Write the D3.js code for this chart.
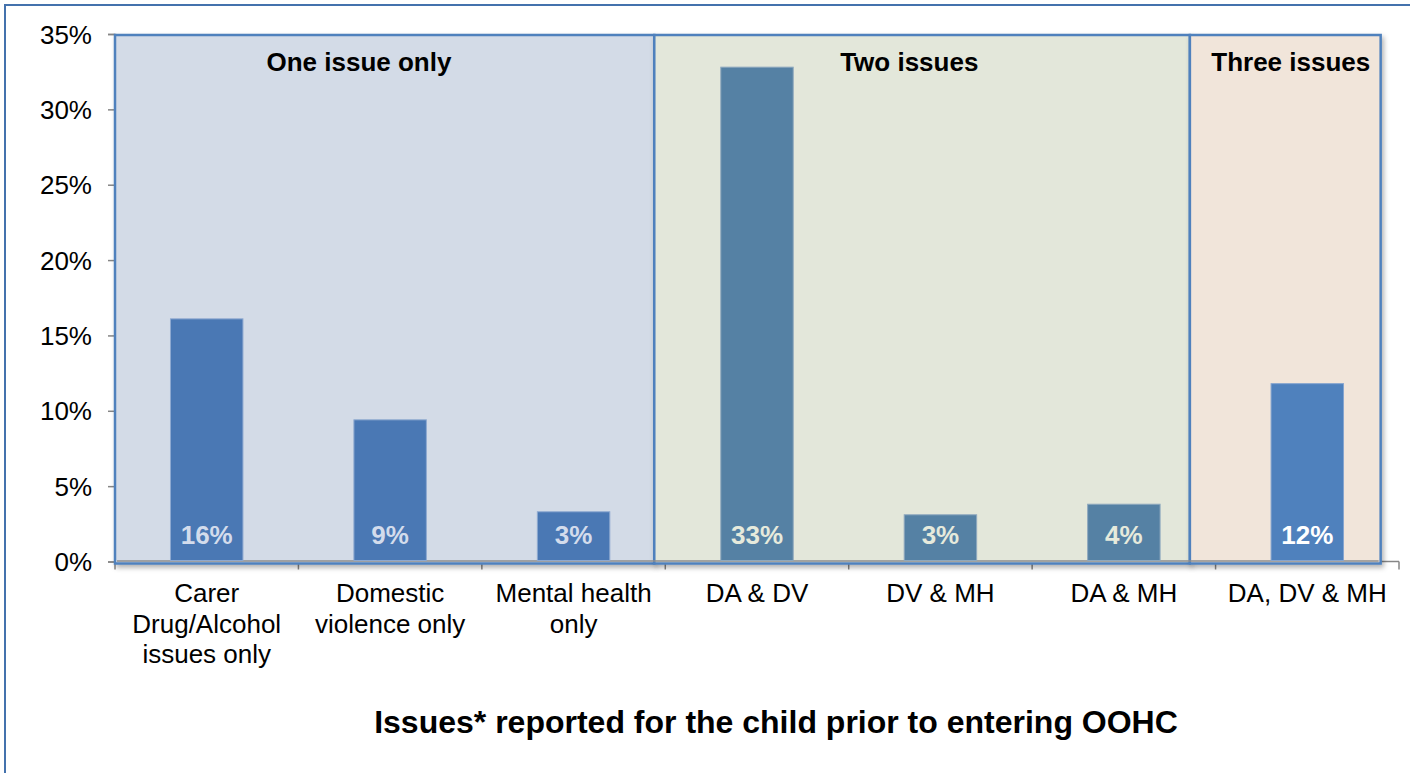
<!DOCTYPE html>
<html>
<head>
<meta charset="utf-8">
<script src="https://cdn.jsdelivr.net/npm/d3@7"></script>
<style>
  html, body { margin: 0; padding: 0; background: #fff; }
  svg { display: block; font-family: "Liberation Sans", Arial, sans-serif; }
</style>
</head>
<body>
<svg id="chart" width="1410" height="773"></svg>
<script>
// ---- data ----
const categories = [
  "Carer\nDrug/Alcohol\nissues only",
  "Domestic\nviolence only",
  "Mental health\nonly",
  "DA & DV",
  "DV & MH",
  "DA & MH",
  "DA, DV & MH"
];
const values = [16.1, 9.4, 3.3, 32.8, 3.1, 3.8, 11.8];
const groupOfCategory = [0, 0, 0, 1, 1, 1, 2];
const groupNames = ["One issue only", "Two issues", "Three issues"];
const yTicks = [0, 5, 10, 15, 20, 25, 30, 35];
const xTitle = "Issues* reported for the child prior to entering OOHC";

// ---- styles / layout ----
const groupStyle = [
  { fill: "#d3dbe7", bar: "#4a78b4", barStroke: "#8ea9d0", label: "#d3dcec", x0: 0, x1: 2.94, lx: 1.33 },
  { fill: "#e3e7da", bar: "#5581a4", barStroke: "#8fa9be", label: "#e6eadc", x0: 2.94, x1: 5.86, lx: 4.33 },
  { fill: "#f1e5da", bar: "#4f81bd", barStroke: "#86a5cf", label: "#ffffff", x0: 5.86, x1: 6.90, lx: 6.41 }
];

const svg = d3.select("#chart");
const pLeft = 115, pRight = 1399, pTop = 34, pBottom = 561.5;

const x = d3.scaleBand().domain(d3.range(categories.length)).range([pLeft, pRight]).padding(0);
const y = d3.scaleLinear().domain([0, 35]).range([pBottom, pTop]);
const step = x.step();
const xu = u => pLeft + u * step; // position in band units

// outer border
svg.append("rect")
  .attr("x", 5).attr("y", 5).attr("width", 1420).attr("height", 790)
  .attr("fill", "none").attr("stroke", "#4472ad").attr("stroke-width", 2);

// shadow filter
const defs = svg.append("defs");
const f = defs.append("filter").attr("id", "sh").attr("x", "-5%").attr("y", "-5%").attr("width", "110%").attr("height", "110%");
f.append("feDropShadow").attr("dx", 2).attr("dy", 3).attr("stdDeviation", 2.5)
  .attr("flood-color", "#000").attr("flood-opacity", 0.3);

// y axis
const yAxis = svg.append("g").attr("transform", `translate(${pLeft},0)`)
  .call(d3.axisLeft(y).tickValues(yTicks).tickFormat(d => d + "%").tickSize(7).tickPadding(16));
yAxis.select(".domain").attr("stroke", "#868686").attr("stroke-width", 1.5);
yAxis.selectAll(".tick line").attr("stroke", "#868686").attr("stroke-width", 1.5);
yAxis.selectAll(".tick text").attr("font-size", 26).attr("fill", "#000")
  .attr("font-family", "Liberation Sans, Arial, sans-serif").attr("dy", "0.35em");

// x axis line + boundary ticks
const xAxisG = svg.append("g");
xAxisG.append("line").attr("x1", pLeft).attr("x2", pRight).attr("y1", pBottom).attr("y2", pBottom)
  .attr("stroke", "#868686").attr("stroke-width", 1.5);
xAxisG.selectAll("line.bt").data(d3.range(categories.length + 1)).join("line")
  .attr("class", "bt")
  .attr("x1", d => pLeft + d * step).attr("x2", d => pLeft + d * step)
  .attr("y1", pBottom).attr("y2", pBottom + 8)
  .attr("stroke", "#868686").attr("stroke-width", 1.5);

// group panels
svg.selectAll("rect.panel").data(groupStyle).join("rect")
  .attr("class", "panel")
  .attr("x", d => xu(d.x0)).attr("y", pTop + 1)
  .attr("width", d => xu(d.x1) - xu(d.x0)).attr("height", pBottom + 2 - pTop - 1)
  .attr("fill", d => d.fill).attr("stroke", "#4f81bd").attr("stroke-width", 2.5)
  .attr("filter", "url(#sh)");

// gray baseline inside panels
svg.append("line").attr("x1", pLeft + 2).attr("x2", xu(6.90) - 2).attr("y1", pBottom - 0.5).attr("y2", pBottom - 0.5)
  .attr("stroke", "#8c8c8c").attr("stroke-width", 1.5);

// group labels
svg.selectAll("text.glabel").data(groupNames).join("text")
  .attr("class", "glabel")
  .attr("x", (d, i) => xu(groupStyle[i].lx)).attr("y", 71)
  .attr("text-anchor", "middle").attr("font-size", 26).attr("font-weight", "bold").attr("fill", "#000")
  .text(d => d);

// bars
const bw = step * 0.395;
const bars = svg.append("g");
bars.selectAll("rect").data(values).join("rect")
  .attr("x", (d, i) => x(i) + step / 2 - bw / 2)
  .attr("y", d => y(d))
  .attr("width", bw)
  .attr("height", d => pBottom - 1 - y(d))
  .attr("fill", (d, i) => groupStyle[groupOfCategory[i]].bar)
  .attr("stroke", (d, i) => groupStyle[groupOfCategory[i]].barStroke)
  .attr("stroke-width", 1);

// bar value labels
bars.selectAll("text").data(values).join("text")
  .attr("x", (d, i) => x(i) + step / 2)
  .attr("y", 544)
  .attr("text-anchor", "middle").attr("font-size", 26).attr("font-weight", "bold")
  .attr("fill", (d, i) => groupStyle[groupOfCategory[i]].label)
  .text(d => Math.round(d) + "%");

// category labels
const cl = svg.append("g");
categories.forEach((c, i) => {
  const t = cl.append("text").attr("text-anchor", "middle").attr("font-size", 26).attr("fill", "#000");
  c.split("\n").forEach((line, j) => {
    t.append("tspan").attr("x", x(i) + step / 2).attr("y", 602 + j * 30.5).text(line);
  });
});

// x title
svg.append("text").attr("x", 776).attr("y", 733)
  .attr("text-anchor", "middle").attr("font-size", 32).attr("font-weight", "bold").attr("fill", "#000")
  .text(xTitle);
</script>
</body>
</html>
